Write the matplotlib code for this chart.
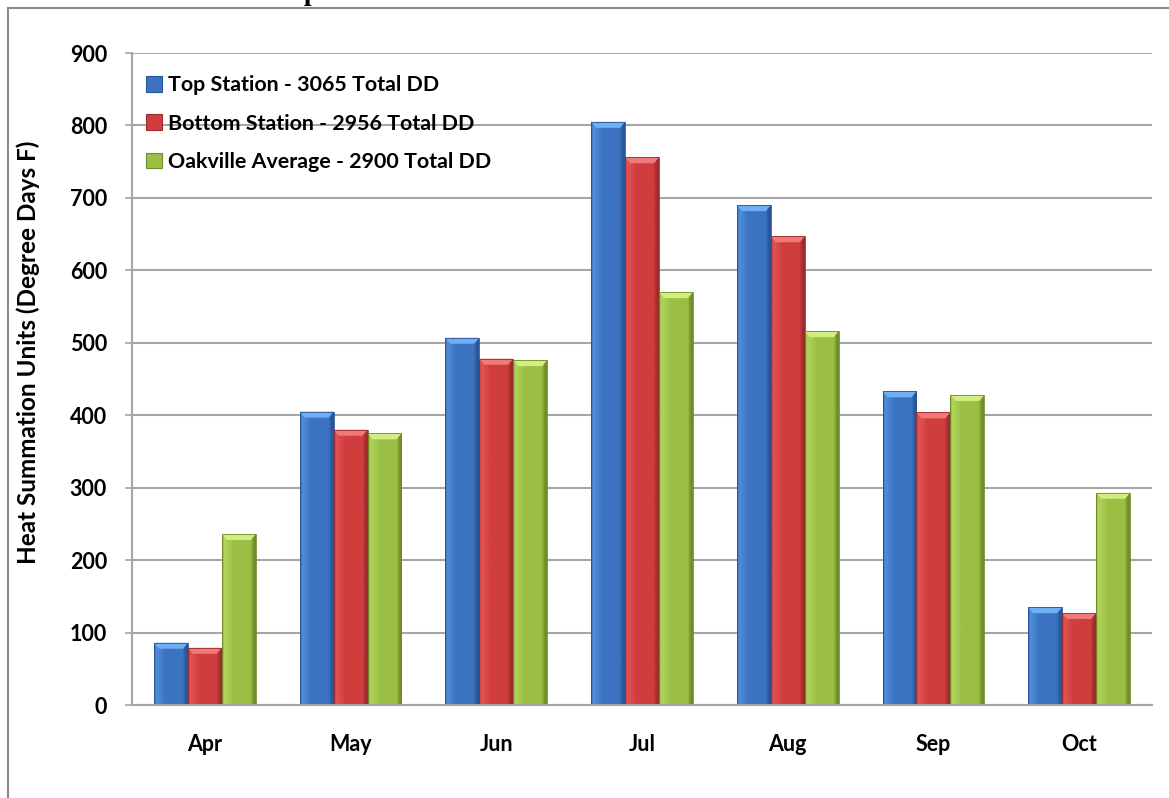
import numpy as np
import matplotlib
matplotlib.use("Agg")
import matplotlib.pyplot as plt
from matplotlib.patches import Rectangle, Polygon, Patch
from matplotlib.colors import LinearSegmentedColormap

months = ["Apr", "May", "Jun", "Jul", "Aug", "Sep", "Oct"]
top_station = [86, 405, 507, 805, 690, 433, 135]
bottom_station = [79, 380, 478, 756, 647, 404, 127]
oakville_avg = [236, 375, 476, 570, 516, 428, 293]
series_labels = ["Top Station - 3065 Total DD",
                 "Bottom Station - 2956 Total DD",
                 "Oakville Average - 2900 Total DD"]
y_ticks = list(range(0, 1000, 100))

# (light, base, dark, bevel) per series
palettes = [
    ("#4f8fdc", "#3b73c1", "#2a5596", "#6fb0f5"),
    ("#e25454", "#cf3d3d", "#9e2c2c", "#f07a7a"),
    ("#b2d65a", "#9bbf45", "#6f8e2b", "#d2ee80"),
]

plt.rcParams["font.family"] = ["Lato", "DejaVu Sans"]
plt.rcParams["font.weight"] = "bold"

W, H = 1169, 798
fig = plt.figure(figsize=(W / 100, H / 100), dpi=100)
fig.patch.set_facecolor("white")

# outer chart frame
fig.patches.append(Rectangle((8 / W, -0.02), 1.2, 1 - 8 / H + 0.02,
                             transform=fig.transFigure, fill=False,
                             edgecolor="#8c8c8c", linewidth=1.5))
# caption line running above the chart frame
fig.text(10 / W, 1 - 0.5 / H, "based on the base 50 temperature.",
         family="Liberation Serif", weight="bold", fontsize=20,
         va="baseline", ha="left")

ax = fig.add_axes([132 / W, 1 - 705 / H, (1152 - 132) / W, (705 - 53) / H])
ax.set_xlim(-0.5, len(months) - 0.5)
ax.set_ylim(0, 900)

x = np.arange(len(months))
bw = 0.233
all_series = [top_station, bottom_station, oakville_avg]

fig.canvas.draw()
# pixel -> data scale for bevel sizes
px_x = (ax.get_xlim()[1] - ax.get_xlim()[0]) / ax.bbox.width
px_y = (ax.get_ylim()[1] - ax.get_ylim()[0]) / ax.bbox.height

grad = np.linspace(0, 1, 64).reshape(1, -1)
for i, (vals, pal) in enumerate(zip(all_series, palettes)):
    light, base, dark, bevel = pal
    cmap = LinearSegmentedColormap.from_list(
        f"bar{i}", [(0, dark), (0.05, light), (0.35, base), (0.85, base),
                    (0.95, dark), (1, dark)])
    bars = ax.bar(x + (i - 1) * bw, vals, width=bw, color=base,
                  edgecolor="none", zorder=3)
    for b in bars:
        x0, w, h = b.get_x(), b.get_width(), b.get_height()
        im = ax.imshow(grad, cmap=cmap, aspect="auto",
                       extent=(x0, x0 + w, 0, h), zorder=3.1,
                       interpolation="bilinear")
        im.set_clip_path(b)
        dx, dy = 5 * px_x, 6 * px_y
        ax.add_patch(Polygon([(x0, h), (x0 + w, h), (x0 + w - dx, h - dy),
                              (x0 + dx, h - dy)], closed=True,
                             facecolor=bevel, edgecolor="none", zorder=3.2))
        ax.add_patch(Rectangle((x0, 0), w, h, fill=False,
                               edgecolor=dark, linewidth=0.6, zorder=3.3))

ax.set_xlim(-0.5, len(months) - 0.5)
ax.set_ylim(0, 900)
ax.set_yticks(y_ticks)
ax.set_xticks(x)
ax.set_xticklabels(months)
ax.grid(axis="y", color="#a6a6a6", linewidth=1.5, zorder=0)
ax.set_axisbelow(True)
for s in ["top", "right"]:
    ax.spines[s].set_visible(False)
for s in ["left", "bottom"]:
    ax.spines[s].set_color("#a6a6a6")
    ax.spines[s].set_linewidth(1.5)
    ax.spines[s].set_zorder(4)
ax.tick_params(axis="y", length=5, width=1.2, color="#a6a6a6", pad=13,
               labelsize=15.5)
ax.tick_params(axis="x", length=0, pad=21, labelsize=15.5)
for lab in ax.get_xticklabels() + ax.get_yticklabels():
    lab.set_fontweight("bold")

fig.text(28 / W, 1 - 352 / H, "Heat Summation Units (Degree Days F)",
         rotation=90, ha="center", va="center", fontsize=17.5, weight="bold")

handles = [Patch(facecolor=p[1], edgecolor=p[2], linewidth=0.8) for p in palettes]
leg = ax.legend(handles, series_labels, loc="upper left",
                bbox_to_anchor=(0.014, 0.966), frameon=False,
                fontsize=15.4, handlelength=0.75, handleheight=0.75,
                handletextpad=0.25, labelspacing=0.86, borderaxespad=0,
                borderpad=0)
for t in leg.get_texts():
    t.set_fontweight("bold")

fig.savefig("out.png", dpi=100, facecolor="white")
